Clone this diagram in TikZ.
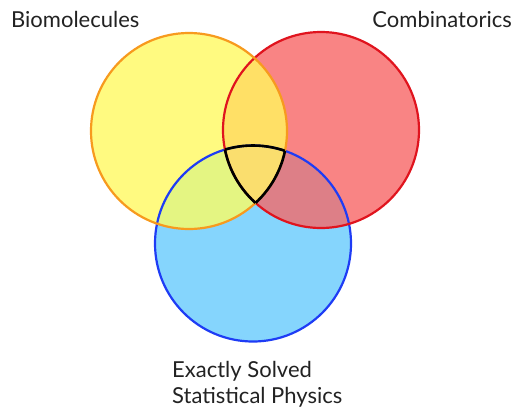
\documentclass[tikz,border=0pt]{standalone}
\usepackage{fontspec}
\setmainfont{Lato}
\definecolor{yfill}{HTML}{FFFA80}
\definecolor{rfill}{HTML}{F98484}
\definecolor{bfill}{HTML}{85D5FD}
\definecolor{yrfill}{HTML}{FFE066}
\definecolor{ybfill}{HTML}{E4F582}
\definecolor{rbfill}{HTML}{DD7F87}
\definecolor{allfill}{HTML}{FADE6E}
\definecolor{yline}{HTML}{F79A1E}
\definecolor{rline}{HTML}{E0141E}
\definecolor{bline}{HTML}{1E3CF5}
\definecolor{txt}{HTML}{222222}
\begin{document}
\begin{tikzpicture}[x=1pt,y=-1pt,
  ring/.style={line width=2.2pt},
  lbl/.style={text=txt,inner sep=0pt,font=\fontsize{22}{26}\selectfont}]
\useasboundingbox (0,0) rectangle (514,408);
\coordinate (Y) at (189,131);
\coordinate (R) at (321,130);
\coordinate (B) at (253,243.5);
\def\rad{98pt}
% base fills
\fill[bfill] (B) circle[radius=\rad];
\fill[yfill] (Y) circle[radius=\rad];
\fill[rfill] (R) circle[radius=\rad];
% pairwise overlaps
\begin{scope}
  \clip (Y) circle[radius=\rad];
  \fill[yrfill] (R) circle[radius=\rad];
  \fill[ybfill] (B) circle[radius=\rad];
\end{scope}
\begin{scope}
  \clip (R) circle[radius=\rad];
  \fill[rbfill] (B) circle[radius=\rad];
\end{scope}
\begin{scope}
  \clip (Y) circle[radius=\rad];
  \clip (R) circle[radius=\rad];
  \fill[allfill] (B) circle[radius=\rad];
\end{scope}
% outlines
\draw[ring,bline] (B) circle[radius=\rad];
\draw[ring,rline] (R) circle[radius=\rad];
\draw[ring,yline] (Y) circle[radius=\rad];
% triple intersection outline
\begin{scope}
  \clip (Y) circle[radius=\rad];
  \clip (R) circle[radius=\rad];
  \draw[black,line width=2.6pt] (B) circle[radius=\rad];
\end{scope}
\begin{scope}
  \clip (Y) circle[radius=\rad];
  \clip (B) circle[radius=\rad];
  \draw[black,line width=2.6pt] (R) circle[radius=\rad];
\end{scope}
\begin{scope}
  \clip (R) circle[radius=\rad];
  \clip (B) circle[radius=\rad];
  \draw[black,line width=2.6pt] (Y) circle[radius=\rad];
\end{scope}
% labels
\node[lbl,anchor=base west] (bio) at (11,27) {Biomolecules};
\node[lbl,anchor=base east] (comb) at (512,27) {Combinatorics};
\node[lbl,anchor=base west] (exact) at (172,377) {Exactly Solved};
\node[lbl,anchor=base west] (stat) at (172,403) {Statistical Physics};
\end{tikzpicture}
\end{document}
